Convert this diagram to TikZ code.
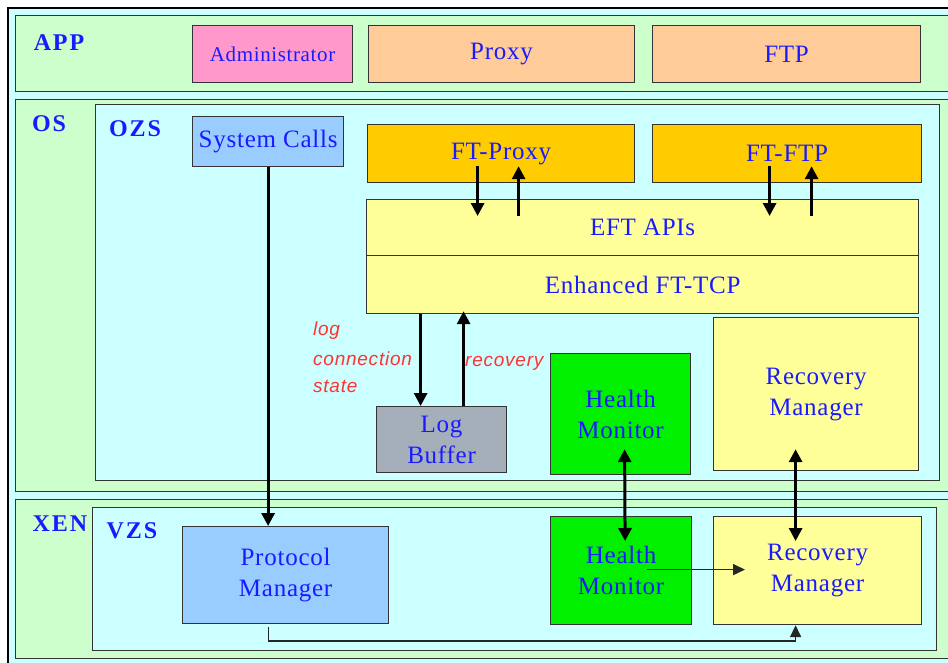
\documentclass[tikz,border=0pt]{standalone}
\usepackage{fontspec}
\setmainfont{Liberation Serif}
\newfontfamily\boxfont[LetterSpace=3]{Liberation Serif}
\newfontfamily\lblfont[LetterSpace=8]{Liberation Serif}
\newfontfamily\redfont[LetterSpace=4]{Liberation Sans}
\usetikzlibrary{arrows.meta,calc}
\definecolor{layergreen}{HTML}{CCFFCC}
\definecolor{zonecyan}{HTML}{CCFFFF}
\definecolor{admpink}{HTML}{FF99CC}
\definecolor{apptan}{HTML}{FFCC99}
\definecolor{ftgold}{HTML}{FFCC00}
\definecolor{lightyellow}{HTML}{FFFF99}
\definecolor{lightblue}{HTML}{99CCFF}
\definecolor{brightgreen}{HTML}{00F000}
\definecolor{logrey}{HTML}{A5AFBA}
\definecolor{edge}{HTML}{333333}
\definecolor{txtblue}{HTML}{1A1AFF}
\definecolor{txtred}{HTML}{FF3333}
\begin{document}
\begin{tikzpicture}[x=1pt,y=-1pt,
  container/.style={draw=edge, line width=1.2pt, anchor=north west, inner sep=0pt},
  layerbox/.style={container, fill=layergreen},
  zonebox/.style={container, fill=zonecyan},
  box/.style={draw=edge, line width=1.2pt, anchor=north west, inner sep=0pt, align=center,
    text=txtblue, font=\boxfont\fontsize{25}{31}\selectfont},
  lbl/.style={text=txtblue, font=\lblfont\bfseries\fontsize{24}{28}\selectfont, inner sep=0pt},
  redlbl/.style={text=txtred, font=\redfont\itshape\fontsize{19}{22}\selectfont, inner sep=0pt, anchor=west},
  tarrow/.style={line width=3pt, -{Triangle[length=13pt,width=13pt]}},
  darrow/.style={line width=3pt, {Triangle[length=13pt,width=13pt]}-{Triangle[length=13pt,width=13pt]}},
  thinarrow/.style={line width=1.6pt, draw=black!85, -{Triangle[length=12pt,width=11pt]}}
]
\useasboundingbox (0,0) rectangle (948,662);
\fill[white] (0,0) rectangle (948,662);
\begin{scope}
\clip (0,0) rectangle (948,662);
\node[container, fill=zonecyan, draw=black, line width=1.5pt, minimum width=960pt, minimum height=680pt] (frame) at (7,7) {};
\node[layerbox, minimum width=950pt, minimum height=76pt] (app) at (15,15) {};
\node[layerbox, minimum width=950pt, minimum height=392pt] (os) at (15,99) {};
\node[zonebox, minimum width=844pt, minimum height=376pt] (ozs) at (95,104) {};
\node[layerbox, minimum width=950pt, minimum height=159pt] (xen) at (15,499) {};
\node[zonebox, minimum width=844pt, minimum height=143pt] (vzs) at (92,507) {};
\end{scope}

\node[lbl] (applbl) at (59,43) {APP};
\node[lbl] (oslbl) at (49,124) {OS};
\node[lbl] (ozslbl) at (135,129) {OZS};
\node[lbl] (xenlbl) at (60,524) {XEN};
\node[lbl] (vzslbl) at (132,531) {VZS};

\node[box, fill=admpink, minimum width=160pt, minimum height=57pt, font=\boxfont\fontsize{21}{26}\selectfont] (adm) at (192,25) {Administrator};
\node[box, fill=apptan, minimum width=266pt, minimum height=57pt] (proxy) at (368,25) {Proxy};
\node[box, fill=apptan, minimum width=268pt, minimum height=57pt] (ftp) at (652,25) {FTP};

\node[box, fill=lightblue, minimum width=151pt, minimum height=50pt] (sys) at (192,116) {System Calls};
\node[box, fill=ftgold, minimum width=267pt, minimum height=58pt] (ftproxy) at (367,124) {FT-Proxy};
\node[box, fill=ftgold, minimum width=269pt, minimum height=58pt] (ftftp) at (652,124) {FT-FTP};
\node[box, fill=lightyellow, minimum width=552pt, minimum height=56pt] (eft) at (366,199) {EFT APIs};
\node[box, fill=lightyellow, minimum width=552pt, minimum height=58pt] (tcp) at (366,255) {Enhanced FT-TCP};
\node[box, fill=lightyellow, minimum width=205pt, minimum height=153pt] (rmo) at (713,317) {Recovery\\Manager};
\node[box, fill=brightgreen, minimum width=140pt, minimum height=121pt] (hmo) at (550,353) {Health\\Monitor};
\node[box, fill=logrey, minimum width=130pt, minimum height=66pt] (logb) at (376,406) {Log\\Buffer};

\node[box, fill=lightblue, minimum width=206pt, minimum height=97pt] (pm) at (182,526) {Protocol\\Manager};
\node[box, fill=brightgreen, minimum width=141pt, minimum height=108pt] (hmv) at (550,516) {Health\\Monitor};
\node[box, fill=lightyellow, minimum width=208pt, minimum height=108pt] (rmv) at (713,516) {Recovery\\Manager};

\node[redlbl] (lg1) at (313,331) {log};
\node[redlbl] (lg2) at (313,359) {connection};
\node[redlbl] (lg3) at (313,386) {state};
\node[redlbl] (rec) at (465,363) {recovery};

% arrows
\draw[tarrow] (sys.south) -- (sys.south |- pm.north);
\draw[tarrow] ($(ftproxy.south)+(-23.5,-17)$) -- ($(ftproxy.south |- eft.north)+(-23.5,17)$);
\draw[tarrow] ($(ftproxy.south |- eft.north)+(17.5,17)$) -- ($(ftproxy.south)+(17.5,-17)$);
\draw[tarrow] ($(ftftp.south)+(-17.5,-17)$) -- ($(ftftp.south |- eft.north)+(-17.5,17)$);
\draw[tarrow] ($(ftftp.south |- eft.north)+(24.5,17)$) -- ($(ftftp.south)+(24.5,-17)$);
\draw[tarrow] ($(logb.north |- tcp.south)+(-21,0)$) -- ($(logb.north)+(-21,0)$);
\draw[tarrow] ($(logb.north)+(22,0)$) -- ($(logb.north |- tcp.south)+(22,-3)$);
\draw[darrow] ($(hmo.south)+(4,-26)$) -- ($(hmv.north)+(4,25)$);
\draw[darrow] ($(rmo.south)+(-20.5,-22)$) -- ($(rmv.north)+(-22,25)$);
\draw[thinarrow] ($(hmv.center)+(25.5,-1)$) -- ($(rmv.west)+(32,-1)$);
\draw[thinarrow] ($(pm.south)+(-17,3)$) -- ++(0,14) -| ($(rmv.south)+(-22,0)$);
\end{tikzpicture}
\end{document}
